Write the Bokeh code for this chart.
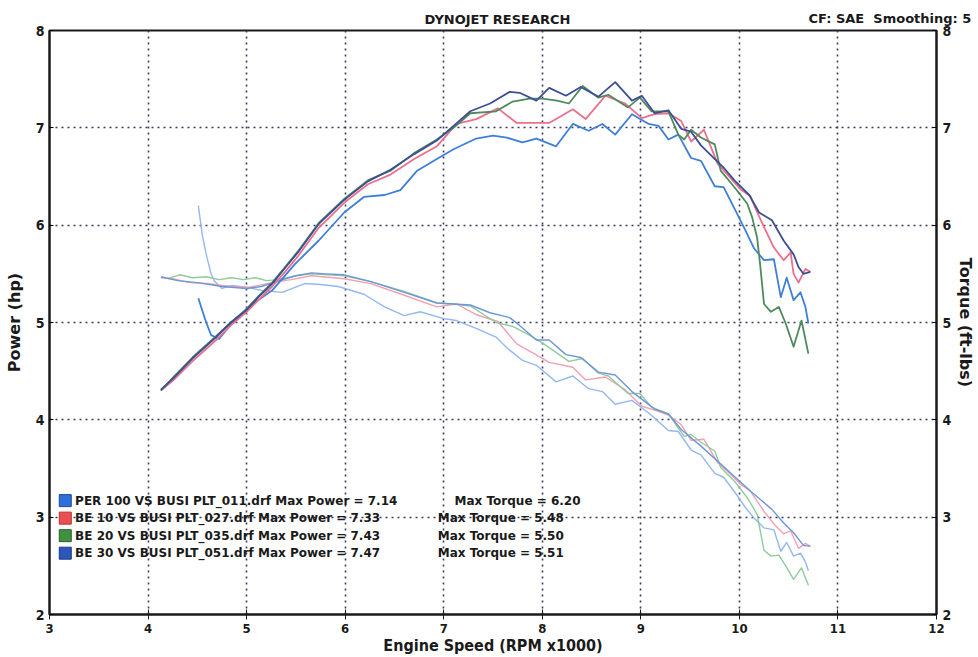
from bokeh.plotting import figure
from bokeh.models import Range1d, LinearAxis, Label
from bokeh.embed import file_html
from bokeh.resources import INLINE

# ---------------- data ----------------
# Power (hp)
per100_p_rpm = [4.51, 4.59, 4.64, 4.72, 4.85, 5.02, 5.26, 5.49, 5.73, 5.99, 6.19, 6.40, 6.56, 6.73, 6.93,
                7.10, 7.33, 7.50, 7.64, 7.80, 7.94, 8.14, 8.31, 8.47, 8.61, 8.74, 8.91, 9.08, 9.18, 9.28,
                9.38, 9.51, 9.61, 9.75, 9.84, 9.98, 10.06, 10.15, 10.25, 10.35, 10.42, 10.48, 10.55,
                10.62, 10.67, 10.70]
per100_p = [5.25, 5.00, 4.87, 4.83, 4.99, 5.16, 5.33, 5.60, 5.84, 6.13, 6.29, 6.31, 6.36, 6.56, 6.68,
            6.78, 6.89, 6.92, 6.90, 6.85, 6.89, 6.81, 7.04, 6.97, 7.04, 6.93, 7.14, 7.04, 7.02, 6.88,
            6.93, 6.69, 6.66, 6.40, 6.39, 6.11, 5.95, 5.76, 5.64, 5.65, 5.26, 5.46, 5.23,
            5.31, 5.16, 4.99]

be10_p_rpm = [4.13, 4.25, 4.45, 4.69, 4.84, 4.99, 5.12, 5.26, 5.39, 5.52, 5.73, 5.99, 6.23, 6.46, 6.70,
              6.93, 7.13, 7.33, 7.55, 7.74, 7.90, 8.07, 8.31, 8.44, 8.64, 8.84, 9.01, 9.14, 9.28, 9.41,
              9.51, 9.64, 9.78, 9.88, 10.01, 10.11, 10.16, 10.25, 10.35, 10.45, 10.52, 10.55, 10.60,
              10.67, 10.72]
be10_p = [4.30, 4.40, 4.60, 4.82, 4.97, 5.10, 5.23, 5.37, 5.52, 5.68, 5.97, 6.23, 6.42, 6.52, 6.68,
          6.81, 7.04, 7.09, 7.20, 7.05, 7.05, 7.05, 7.19, 7.09, 7.33, 7.25, 7.10, 7.14, 7.15, 7.07,
          6.86, 6.98, 6.63, 6.52, 6.37, 6.30, 6.18, 5.98, 5.77, 5.64, 5.72, 5.50, 5.41,
          5.55, 5.52]

be20_p_rpm = [4.13, 4.25, 4.45, 4.69, 4.84, 4.99, 5.12, 5.26, 5.39, 5.52, 5.73, 5.99, 6.23, 6.46, 6.70,
              6.93, 7.10, 7.27, 7.53, 7.70, 7.87, 8.00, 8.15, 8.27, 8.41, 8.57, 8.67, 8.87, 8.99, 9.11,
              9.28, 9.38, 9.44, 9.51, 9.61, 9.75, 9.81, 9.95, 10.08, 10.13, 10.18, 10.21, 10.25, 10.32,
              10.40, 10.47, 10.55, 10.63, 10.70]
be20_p = [4.30, 4.43, 4.64, 4.86, 5.00, 5.13, 5.27, 5.41, 5.57, 5.73, 6.02, 6.27, 6.46, 6.56, 6.74,
          6.88, 7.00, 7.15, 7.17, 7.27, 7.30, 7.30, 7.28, 7.25, 7.43, 7.31, 7.34, 7.21, 7.31, 7.17,
          7.17, 6.93, 6.88, 6.98, 6.90, 6.83, 6.56, 6.39, 6.22, 6.08, 5.87, 5.60, 5.19, 5.11,
          5.16, 4.99, 4.75, 5.02, 4.68]

be30_p_rpm = [4.13, 4.25, 4.45, 4.69, 4.84, 4.99, 5.12, 5.26, 5.39, 5.52, 5.73, 5.99, 6.23, 6.46, 6.70,
              6.93, 7.10, 7.27, 7.47, 7.67, 7.77, 7.94, 8.07, 8.24, 8.39, 8.57, 8.74, 8.91, 9.01, 9.14,
              9.28, 9.41, 9.51, 9.61, 9.71, 9.85, 9.95, 10.10, 10.20, 10.33, 10.45, 10.55, 10.60,
              10.65, 10.72]
be30_p = [4.31, 4.42, 4.63, 4.85, 5.00, 5.12, 5.26, 5.40, 5.56, 5.72, 6.01, 6.26, 6.45, 6.57, 6.73,
          6.87, 7.02, 7.17, 7.25, 7.37, 7.36, 7.28, 7.41, 7.33, 7.42, 7.32, 7.47, 7.28, 7.33, 7.15,
          7.18, 6.99, 6.96, 6.82, 6.72, 6.58, 6.46, 6.31, 6.13, 6.05, 5.84, 5.70, 5.57,
          5.50, 5.52]

# Torque (ft-lbs)
per100_t_rpm = [4.51, 4.55, 4.59, 4.64, 4.67, 4.75, 4.85, 5.02, 5.15, 5.36, 5.59, 5.75, 5.93, 6.19, 6.40,
                6.60, 6.76, 7.00, 7.13, 7.33, 7.53, 7.64, 7.80, 7.94, 8.14, 8.31, 8.47, 8.61, 8.74, 8.91,
                9.08, 9.28, 9.38, 9.51, 9.61, 9.75, 9.84, 9.98, 10.06, 10.15, 10.25, 10.35, 10.42, 10.48,
                10.55, 10.62, 10.67, 10.70]
per100_t = [6.20, 5.90, 5.70, 5.50, 5.43, 5.35, 5.38, 5.36, 5.33, 5.31, 5.40, 5.39, 5.37, 5.29, 5.16,
            5.07, 5.11, 5.04, 5.02, 4.94, 4.85, 4.74, 4.61, 4.56, 4.39, 4.45, 4.32, 4.29, 4.16, 4.20,
            4.07, 3.89, 3.88, 3.69, 3.64, 3.45, 3.41, 3.22, 3.10, 2.99, 2.89, 2.87, 2.65, 2.74,
            2.60, 2.63, 2.54, 2.45]

be10_t_rpm = [4.13, 4.25, 4.42, 4.60, 4.75, 5.02, 5.26, 5.45, 5.66, 5.99, 6.26, 6.60, 6.93, 7.13, 7.33,
              7.55, 7.74, 7.90, 8.07, 8.31, 8.44, 8.64, 8.84, 9.01, 9.14, 9.28, 9.41, 9.51, 9.64, 9.78,
              9.88, 10.01, 10.11, 10.25, 10.35, 10.45, 10.52, 10.60, 10.67, 10.72]
be10_t = [5.46, 5.45, 5.41, 5.40, 5.38, 5.36, 5.41, 5.44, 5.48, 5.45, 5.40, 5.28, 5.16, 5.19, 5.08,
          5.01, 4.78, 4.69, 4.59, 4.54, 4.41, 4.44, 4.31, 4.14, 4.10, 4.05, 3.95, 3.79, 3.80, 3.56,
          3.47, 3.34, 3.27, 3.06, 2.93, 2.83, 2.86, 2.68, 2.73, 2.70]

be20_t_rpm = [4.20, 4.32, 4.45, 4.59, 4.72, 4.85, 4.97, 5.09, 5.20, 5.32, 5.50, 5.66, 5.99, 6.26, 6.60,
              6.93, 7.10, 7.27, 7.53, 7.70, 7.87, 8.00, 8.27, 8.41, 8.57, 8.67, 8.87, 8.99, 9.11, 9.28,
              9.44, 9.51, 9.61, 9.75, 9.81, 9.95, 10.08, 10.18, 10.25, 10.32, 10.40, 10.47, 10.55,
              10.63, 10.70]
be20_t = [5.45, 5.49, 5.46, 5.47, 5.44, 5.46, 5.44, 5.46, 5.43, 5.44, 5.48, 5.50, 5.48, 5.42, 5.32,
          5.20, 5.19, 5.17, 5.00, 4.96, 4.87, 4.79, 4.60, 4.63, 4.48, 4.45, 4.27, 4.27, 4.13, 4.06,
          3.83, 3.85, 3.77, 3.68, 3.51, 3.37, 3.20, 3.03, 2.66, 2.60, 2.61, 2.50, 2.36,
          2.48, 2.30]

be30_t_rpm = [4.13, 4.30, 4.50, 4.75, 5.00, 5.15, 5.30, 5.50, 5.66, 5.80, 5.99, 6.26, 6.60, 6.93, 7.10,
              7.27, 7.47, 7.67, 7.77, 7.94, 8.07, 8.24, 8.39, 8.57, 8.74, 8.91, 9.14, 9.28, 9.41, 9.61,
              9.85, 10.10, 10.33, 10.45, 10.55, 10.65, 10.72]
be30_t = [5.47, 5.43, 5.41, 5.37, 5.35, 5.37, 5.42, 5.48, 5.51, 5.50, 5.49, 5.42, 5.31, 5.20, 5.19,
          5.18, 5.10, 5.05, 4.97, 4.82, 4.82, 4.67, 4.64, 4.49, 4.46, 4.29, 4.11, 4.06, 3.90, 3.73,
          3.51, 3.28, 3.08, 2.94, 2.84, 2.71, 2.70]

legend_labels = ["PER 100 VS BUSI PLT_011.drf Max Power = 7.14",
                 "BE 10 VS BUSI PLT_027.drf Max Power = 7.33",
                 "BE 20 VS BUSI PLT_035.drf Max Power = 7.43",
                 "BE 30 VS BUSI PLT_051.drf Max Power = 7.47"]
torque_labels = ["Max Torque = 6.20", "Max Torque = 5.48", "Max Torque = 5.50", "Max Torque = 5.51"]
x_ticks = [3, 4, 5, 6, 7, 8, 9, 10, 11, 12]
y_ticks = [2, 3, 4, 5, 6, 7, 8]

# ---------------- styling ----------------
power_colors = ["#3f7fd8", "#ec6f8c", "#4f8a5c", "#3c4f95"]
torque_colors = ["#93b8f0", "#f2a0b2", "#8fcb9c", "#6c97d8"]
swatch_colors = ["#2f6fd8", "#ea4f52", "#3f9140", "#2b57b8"]
swatch_lines = ["#1c4aa0", "#b83030", "#26652a", "#1c3a88"]

CONDENSED = "DejaVu Sans Condensed"
WIDE = "DejaVu Sans"
INK = "#1a1a1a"

p = figure(width=978, height=657, output_backend="svg", toolbar_location=None,
           x_range=Range1d(3, 12), y_range=Range1d(2, 8),
           min_border_left=49, min_border_right=34, min_border_top=29, min_border_bottom=43)
p.extra_y_ranges = {"tq": Range1d(2, 8)}

p.background_fill_color = "white"
p.border_fill_color = "white"
p.outline_line_color = INK
p.outline_line_width = 2

# grid
for g in (p.xgrid, p.ygrid):
    g.grid_line_color = "#3a3a5c"
    g.grid_line_dash = "2 4"
    g.grid_line_width = 1.6
p.xgrid.ticker = x_ticks
p.ygrid.ticker = y_ticks

# x axis
xa = p.xaxis[0]
xa.ticker = x_ticks
xa.ticker.num_minor_ticks = 5
xa.axis_label = "Engine Speed (RPM x1000)"
xa.axis_label_text_font = CONDENSED
xa.axis_label_text_font_style = "bold"
xa.axis_label_text_font_size = "16px"
xa.axis_label_text_color = INK
xa.axis_label_standoff = 0
xa.major_label_text_font = CONDENSED
xa.major_label_text_font_style = "bold"
xa.major_label_text_font_size = "13px"
xa.major_label_text_color = INK
xa.major_label_standoff = 4
xa.major_tick_in = 5
xa.major_tick_out = 5
xa.minor_tick_in = 5
xa.minor_tick_out = 5
xa.axis_line_width = 2
xa.axis_line_color = INK
xa.major_tick_line_color = INK
xa.minor_tick_line_color = INK

# left axis
ya = p.yaxis[0]
ya.ticker = y_ticks
ya.axis_label = "Power (hp)"
ya.axis_label_text_font = WIDE
ya.axis_label_text_font_style = "bold"
ya.axis_label_text_font_size = "16px"
ya.axis_label_text_color = INK
ya.axis_label_standoff = 9
ya.major_label_text_font = CONDENSED
ya.major_label_text_font_style = "bold"
ya.major_label_text_font_size = "14px"
ya.major_label_text_color = INK
ya.major_label_standoff = 5
ya.major_tick_in = 4
ya.major_tick_out = 0
ya.minor_tick_line_color = None
ya.axis_line_width = 2
ya.axis_line_color = INK

# right axis
ra = LinearAxis(y_range_name="tq", ticker=y_ticks, axis_label="Torque (ft-lbs)")
ra.axis_label_text_font = WIDE
ra.axis_label_text_font_style = "bold"
ra.axis_label_text_font_size = "16px"
ra.axis_label_text_color = INK
ra.axis_label_standoff = 2
ra.major_label_text_font = CONDENSED
ra.major_label_text_font_style = "bold"
ra.major_label_text_font_size = "14px"
ra.major_label_text_color = INK
ra.major_label_standoff = 6
ra.major_tick_in = 4
ra.major_tick_out = 0
ra.minor_tick_line_color = None
ra.axis_line_width = 2
ra.axis_line_color = INK
p.add_layout(ra, "right")

# torque curves (drawn first, thinner, lighter)
torque_sets = [(per100_t_rpm, per100_t), (be10_t_rpm, be10_t), (be20_t_rpm, be20_t), (be30_t_rpm, be30_t)]
for (xs, ys), c in zip(torque_sets, torque_colors):
    p.line(xs, ys, y_range_name="tq", line_color=c, line_width=1.4, line_join="round")

# power curves
power_sets = [(per100_p_rpm, per100_p), (be10_p_rpm, be10_p), (be20_p_rpm, be20_p), (be30_p_rpm, be30_p)]
for (xs, ys), c in zip(power_sets, power_colors):
    p.line(xs, ys, line_color=c, line_width=1.8, line_join="round")

# legend block (swatches + texts)
row_y = [3.17, 2.99, 2.81, 2.63]
swatch_x = 3.16
text_x = 3.26
tq_x = [7.11, 6.94, 6.94, 6.94]
p.scatter(x=[swatch_x] * 4, y=row_y, marker="square", size=12,
          fill_color=swatch_colors, line_color=swatch_lines, line_width=1)
for lab, t, ty, tx in zip(legend_labels, torque_labels, row_y, tq_x):
    p.add_layout(Label(x=text_x, y=ty, text=lab, text_font=WIDE, text_font_style="bold",
                       text_font_size="12px", text_color=INK, text_baseline="middle"))
    p.add_layout(Label(x=tx, y=ty, text=t, text_font=WIDE, text_font_style="bold",
                       text_font_size="12px", text_color=INK, text_baseline="middle"))

# header texts, placed in the top border panel (screen units relative to each slot)
p.add_layout(Label(x=448, y=11, x_units="screen", y_units="screen", text="DYNOJET RESEARCH",
                   text_font=WIDE, text_font_style="bold", text_font_size="13px",
                   text_color=INK, text_align="center", text_baseline="middle"), "above")
p.add_layout(Label(x=759, y=-3, x_units="screen", y_units="screen", text="CF: SAE\u00a0\u00a0Smoothing: 5",
                   text_font=WIDE, text_font_style="bold", text_font_size="13px",
                   text_color=INK, text_align="left", text_baseline="middle"), "above")

open("out.html", "w").write(file_html(p, INLINE))
